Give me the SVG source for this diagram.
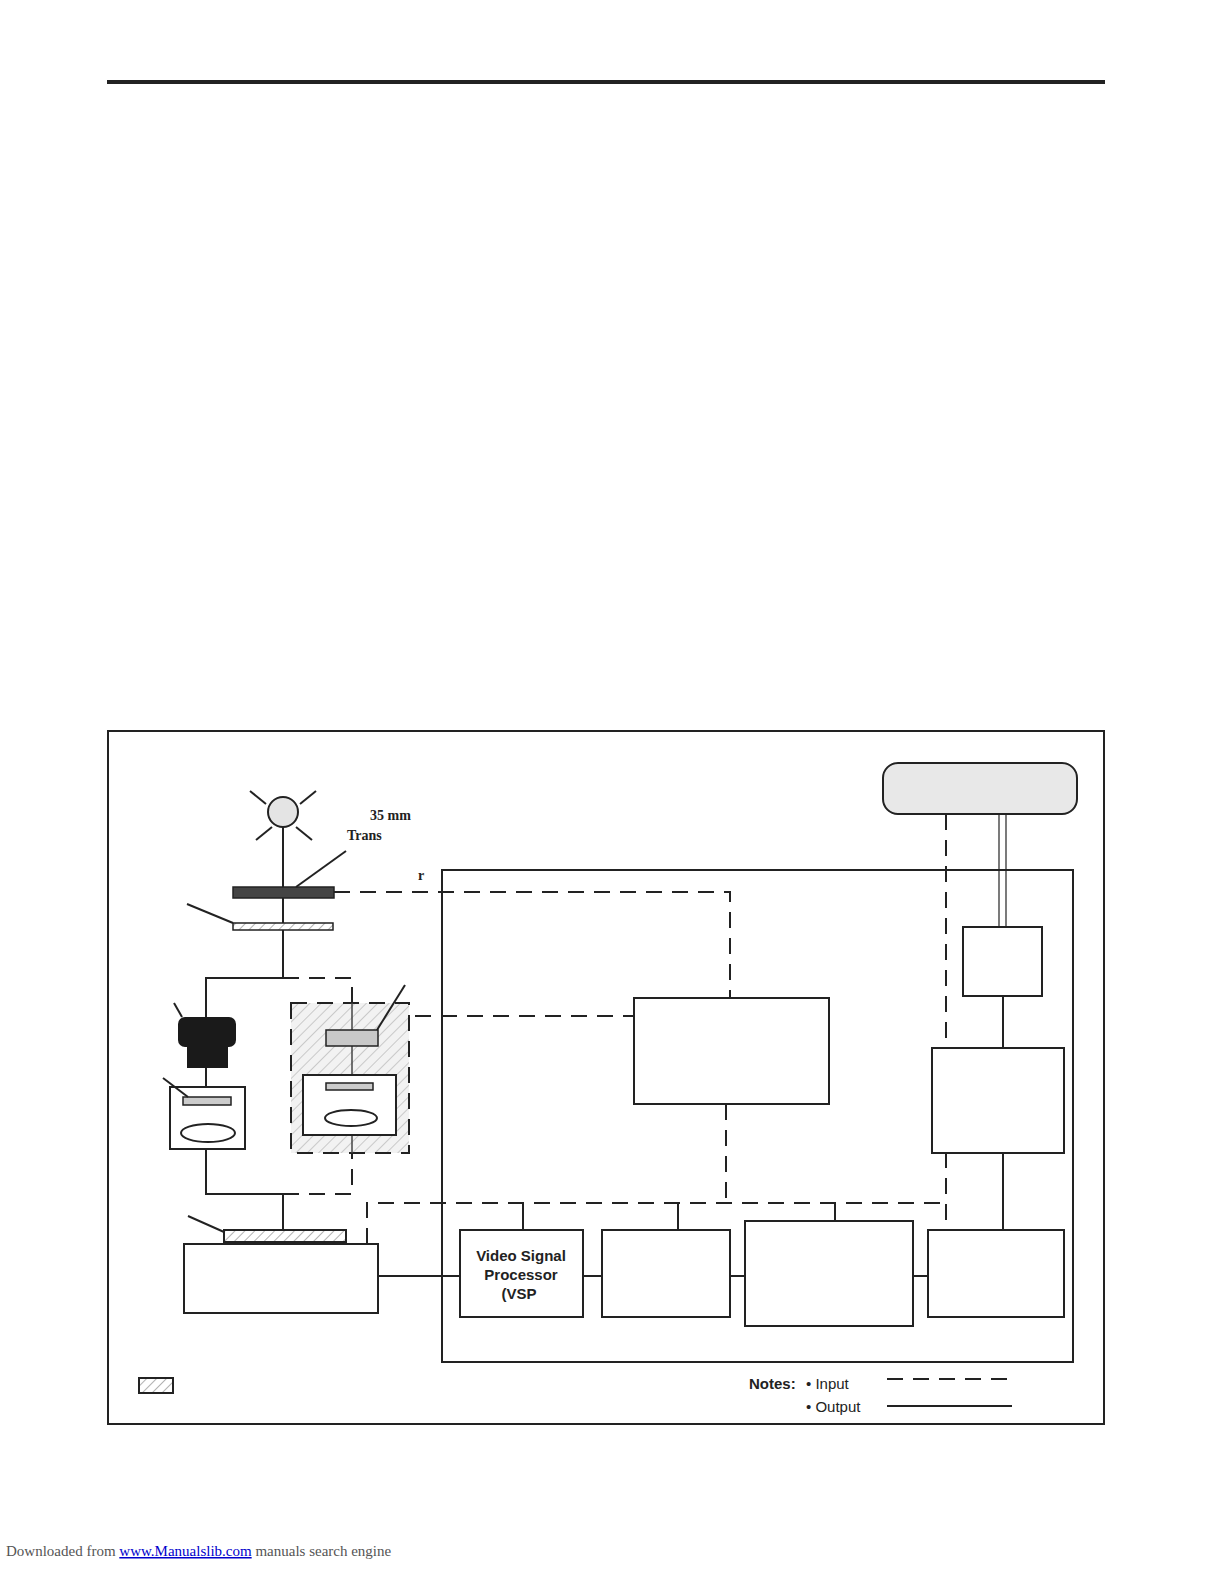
<svg xmlns="http://www.w3.org/2000/svg" width="1224" height="1584" viewBox="0 0 1224 1584">
<defs>
<pattern id="h" width="7" height="7" patternUnits="userSpaceOnUse" patternTransform="rotate(45)"><rect width="7" height="7" fill="#fff"/><line x1="0" y1="0" x2="0" y2="7" stroke="#999" stroke-width="1.5"/></pattern>
<pattern id="h2" width="8" height="8" patternUnits="userSpaceOnUse" patternTransform="rotate(45)"><rect width="8" height="8" fill="#f2f2f2"/><line x1="0" y1="0" x2="0" y2="8" stroke="#bbb" stroke-width="1.5"/></pattern>
</defs>
<style>
.s{fill:none;stroke:#222;stroke-width:2}
.d{fill:none;stroke:#222;stroke-width:2;stroke-dasharray:16 10}
.b{fill:#fff;stroke:#222;stroke-width:2}
.t{font-family:"Liberation Serif",serif;font-weight:bold;font-size:14px;fill:#222}
.a{font-family:"Liberation Sans",sans-serif;font-size:15px;fill:#222}
</style>
<rect width="1224" height="1584" fill="#fff"/>
<line x1="107" y1="82" x2="1105" y2="82" stroke="#222" stroke-width="4"/>
<rect id="frame" x="108" y="731" width="996" height="693" class="s"/>
<g id="connectors">
<line x1="283" y1="827" x2="283" y2="978" class="s"/>
<polyline points="206,1017 206,978 283,978" class="s"/>
<polyline points="283,978 352,978 352,1003" class="d"/>
<line x1="206" y1="1068" x2="206" y2="1087" class="s"/>
<polyline points="206,1149 206,1194 283,1194" class="s"/>
<polyline points="283,1194 352,1194 352,1153" class="d"/>
<line x1="283" y1="1194" x2="283" y2="1230" class="s"/>
<polyline points="334,892 730,892 730,998" class="d"/>
<line x1="415" y1="1016" x2="634" y2="1016" class="d"/>
<line x1="726" y1="1104" x2="726" y2="1203" class="d"/>
<polyline points="367,1244 367,1203 946,1203" class="d"/>
<line x1="946" y1="814" x2="946" y2="1230" class="d"/>
<line x1="999" y1="814" x2="999" y2="927" stroke="#222" stroke-width="1.2"/>
<line x1="1006" y1="814" x2="1006" y2="927" stroke="#222" stroke-width="1.2"/>
<line x1="1003" y1="996" x2="1003" y2="1048" class="s"/>
<line x1="1003" y1="1153" x2="1003" y2="1230" class="s"/>
<line x1="523" y1="1203" x2="523" y2="1230" class="s"/>
<line x1="678" y1="1203" x2="678" y2="1230" class="s"/>
<line x1="835" y1="1203" x2="835" y2="1221" class="s"/>
<line x1="378" y1="1276" x2="460" y2="1276" class="s"/>
<line x1="583" y1="1276" x2="602" y2="1276" class="s"/>
<line x1="730" y1="1276" x2="745" y2="1276" class="s"/>
<line x1="913" y1="1276" x2="928" y2="1276" class="s"/>
</g>
<g id="lamp">
<circle cx="283" cy="812" r="15" fill="#e4e4e4" stroke="#222" stroke-width="2"/>
<line x1="250" y1="791" x2="266" y2="804" class="s"/><line x1="316" y1="791" x2="300" y2="804" class="s"/>
<line x1="256" y1="840" x2="272" y2="827" class="s"/><line x1="312" y1="840" x2="296" y2="827" class="s"/>
</g>
<g id="slide"><rect x="233" y="887" width="101" height="11" fill="#444" stroke="#222" stroke-width="1.5"/></g>
<g id="filter1"><rect x="233" y="923" width="100" height="7" fill="url(#h)" stroke="#222" stroke-width="1.5"/></g>
<g id="camera">
<rect x="178" y="1017" width="58" height="30" rx="7" fill="#1a1a1a"/>
<rect x="187" y="1047" width="41" height="21" fill="#1a1a1a"/>
<rect x="170" y="1087" width="75" height="62" class="b"/>
<rect x="183" y="1097" width="48" height="8" fill="#ccc" stroke="#222" stroke-width="1.5"/>
<ellipse cx="208" cy="1133" rx="27" ry="9" class="b"/>
</g>
<g id="optional">
<rect x="291" y="1003" width="118" height="150" class="d" style="fill:url(#h2)"/>
<line x1="352" y1="1003" x2="352" y2="1153" stroke="#444" stroke-width="1.5"/>
<rect x="326" y="1030" width="52" height="16" fill="#c8c8c8" stroke="#222" stroke-width="1.5"/>
<rect x="303" y="1075" width="93" height="60" class="b"/>
<rect x="326" y="1083" width="47" height="7" fill="#ccc" stroke="#222" stroke-width="1.5"/>
<ellipse cx="351" cy="1118" rx="26" ry="8" class="b"/>
</g>
<g id="scanner">
<rect x="224" y="1230" width="122" height="12" fill="url(#h)" stroke="#222" stroke-width="2"/>
<rect x="184" y="1244" width="194" height="69" class="b"/>
</g>
<g id="leaders">
<line x1="187" y1="904" x2="233" y2="923" class="s"/>
<line x1="174" y1="1003" x2="182" y2="1017" class="s"/>
<line x1="163" y1="1078" x2="188" y2="1097" class="s"/>
<line x1="405" y1="985" x2="377" y2="1030" class="s"/>
<line x1="188" y1="1216" x2="224" y2="1232" class="s"/>
<line x1="346" y1="851" x2="296" y2="887" class="s"/>
</g>
<rect id="inner" x="442" y="870" width="631" height="492" class="s"/>
<rect id="top-box" x="883" y="763" width="194" height="51" rx="15" fill="#e8e8e8" stroke="#222" stroke-width="2"/>
<rect id="small-box" x="963" y="927" width="79" height="69" class="b"/>
<rect id="right-box" x="932" y="1048" width="132" height="105" class="b"/>
<rect id="center-box" x="634" y="998" width="195" height="106" class="b"/>
<g id="vsp">
<rect x="460" y="1230" width="123" height="87" class="b"/>
<text class="a" style="font-weight:bold" x="521" y="1261" text-anchor="middle">Video  Signal</text>
<text class="a" style="font-weight:bold" x="521" y="1280" text-anchor="middle">Processor</text>
<text class="a" style="font-weight:bold" x="519" y="1299" text-anchor="middle">(VSP</text>
</g>
<rect id="box2" x="602" y="1230" width="128" height="87" class="b"/>
<rect id="box3" x="745" y="1221" width="168" height="105" class="b"/>
<rect id="box4" x="928" y="1230" width="136" height="87" class="b"/>
<text class="t" x="370" y="820">35 mm</text>
<text class="t" x="347" y="840">Trans</text>
<text class="t" x="418" y="880">r</text>
<g id="legend">
<rect x="139" y="1378" width="34" height="15" fill="url(#h)" stroke="#222" stroke-width="2"/>
<text class="a" style="font-weight:bold" x="749" y="1389">Notes:</text>
<text class="a" x="806" y="1389">•  Input</text>
<text class="a" x="806" y="1412">•  Output</text>
<line x1="887" y1="1379" x2="1007" y2="1379" class="d"/>
<line x1="887" y1="1406" x2="1012" y2="1406" class="s"/>
</g>
<text x="6" y="1556" style="font-family:'Liberation Serif',serif;font-size:15px;fill:#555">Downloaded from <tspan fill="#00c" text-decoration="underline">www.Manualslib.com</tspan>  manuals search engine</text>
</svg>
